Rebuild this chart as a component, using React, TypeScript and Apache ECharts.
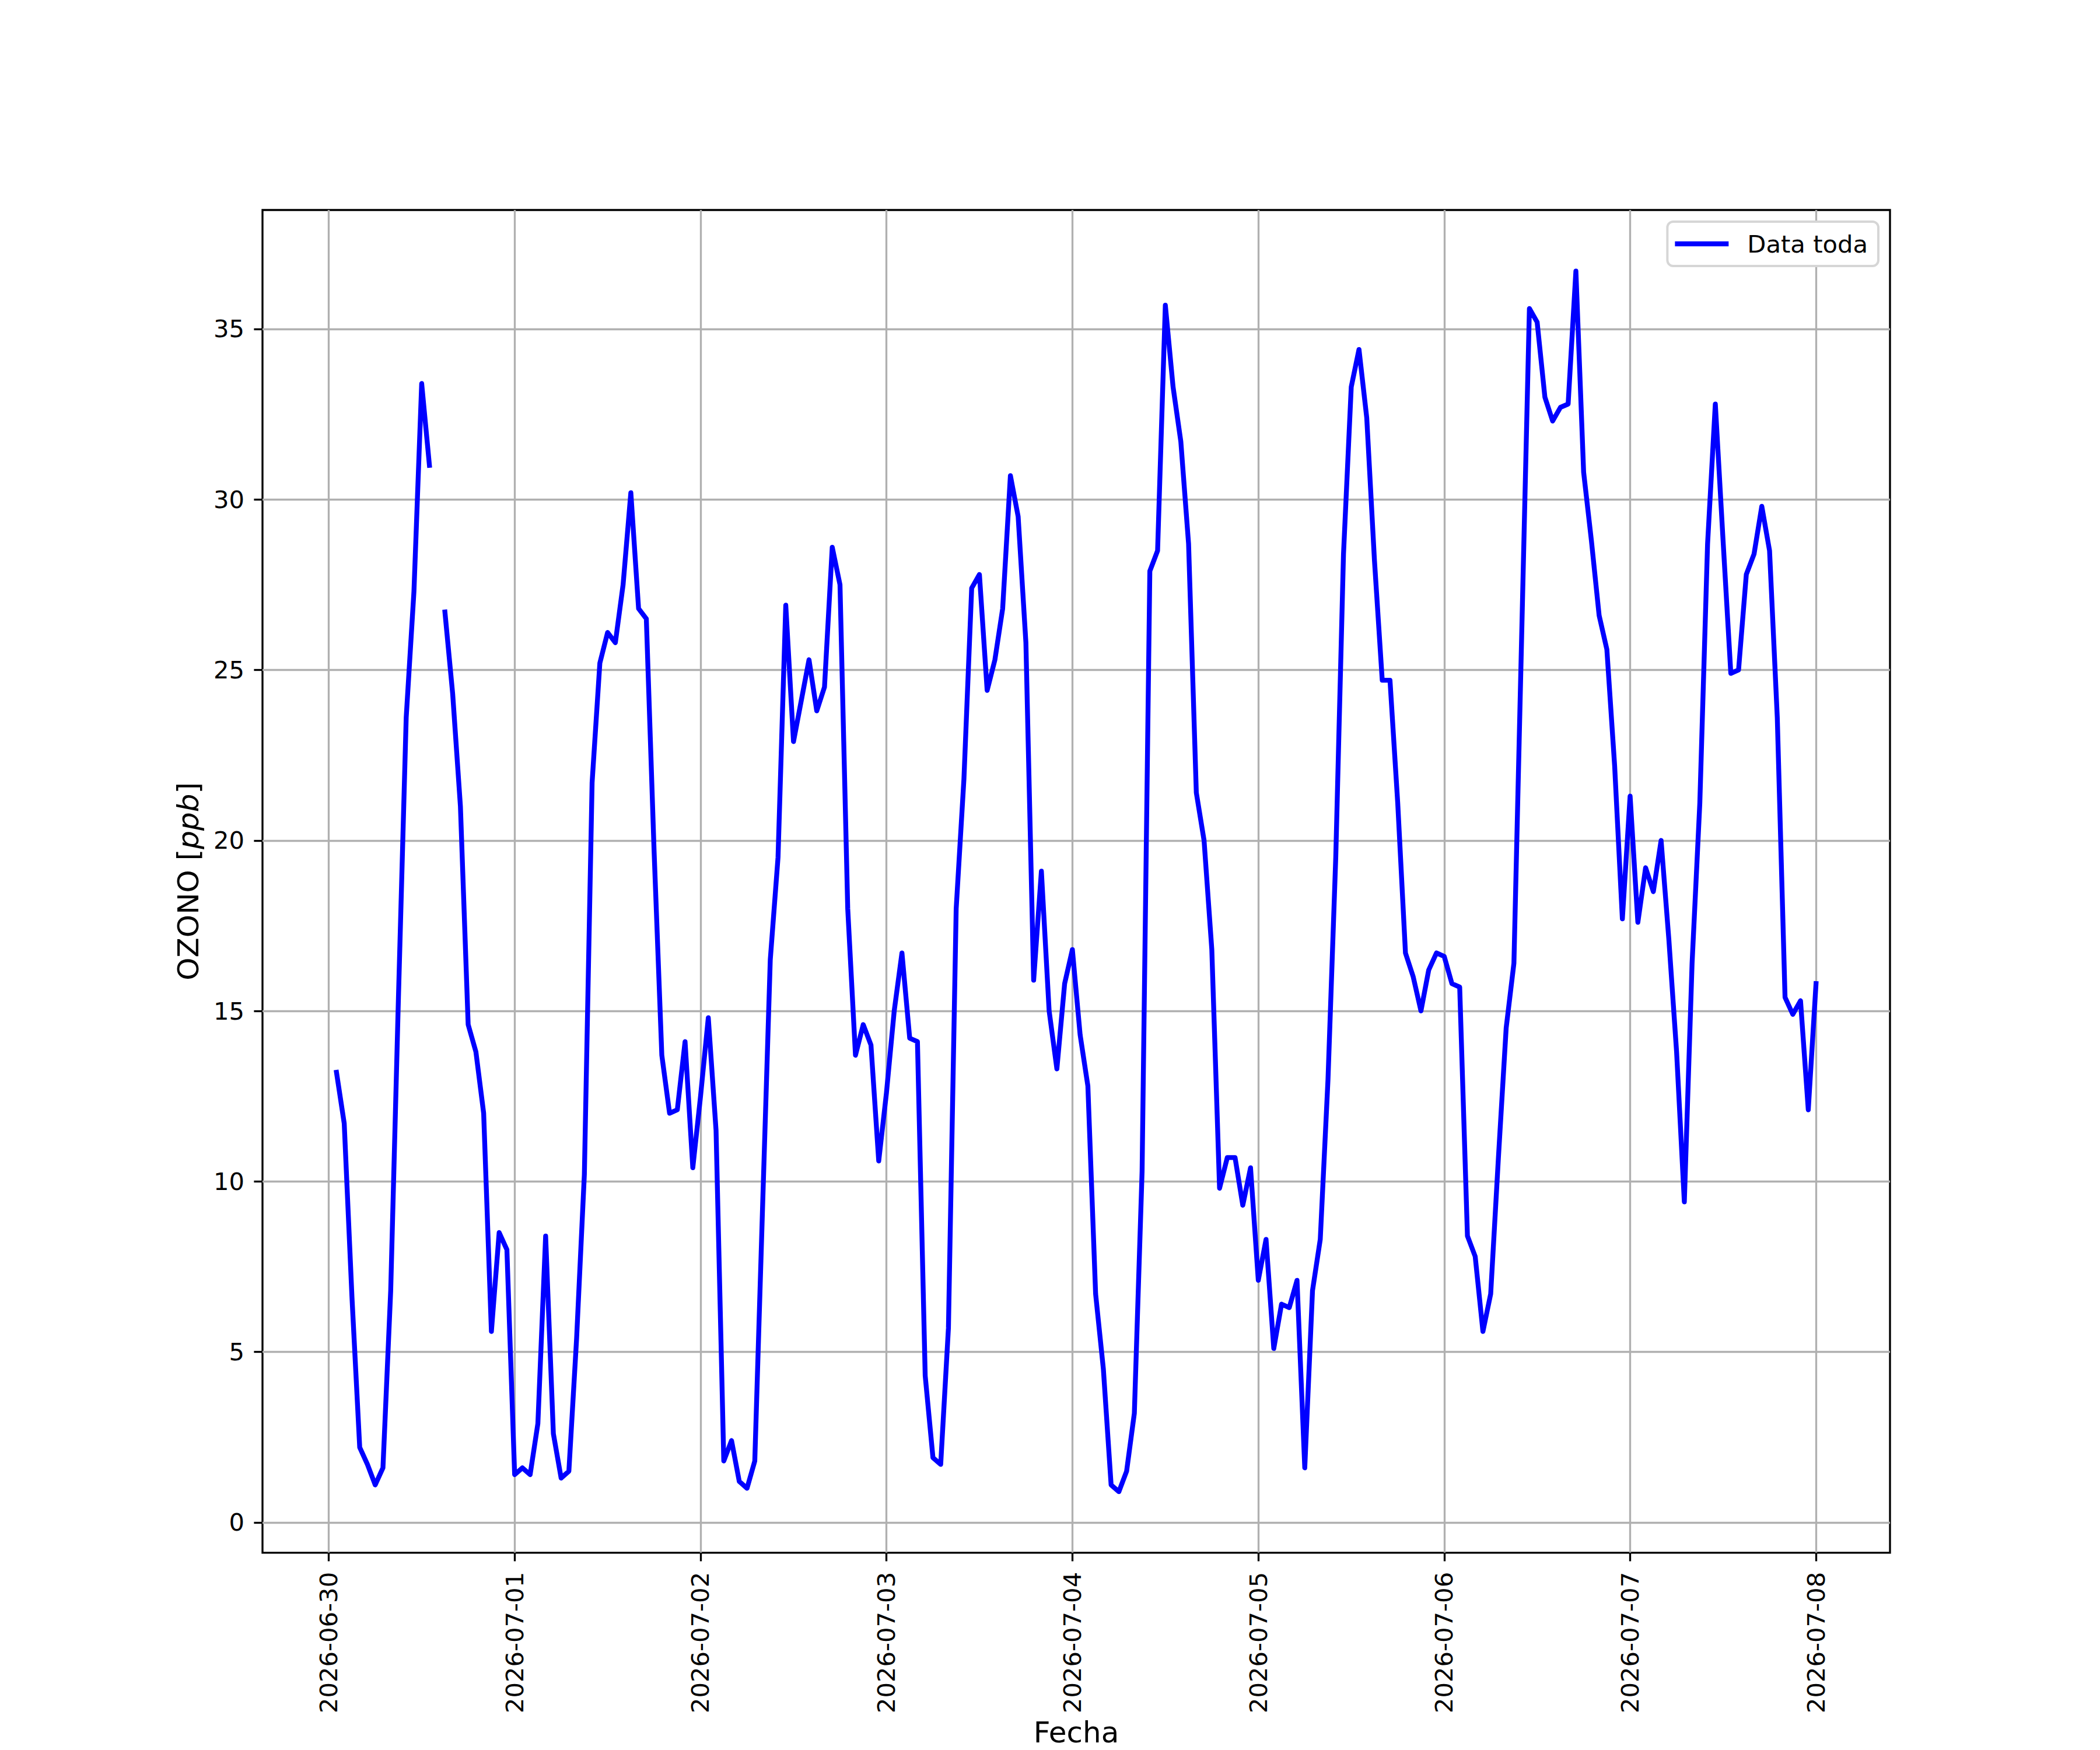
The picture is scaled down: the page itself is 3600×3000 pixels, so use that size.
import React, { useEffect, useRef } from "react";
import * as echarts from "echarts";

// Hourly ozone readings (ppb). Each array starts at the hour given in dayStartHour.
const oz_0630 = [13.2, 11.7, 6.6, 2.2, 1.7, 1.1, 1.6, 6.8, 15.4, 23.6, 27.3, 33.4, 31.0, null, 26.7, 24.3, 21.0, 14.6, 13.8, 12.0, 5.6, 8.5, 8.0];
const oz_0701 = [1.4, 1.6, 1.4, 2.9, 8.4, 2.6, 1.3, 1.5, 5.4, 10.2, 21.7, 25.2, 26.1, 25.8, 27.5, 30.2, 26.8, 26.5, 19.7, 13.7, 12.0, 12.1, 14.1, 10.4];
const oz_0702 = [12.5, 14.8, 11.5, 1.8, 2.4, 1.2, 1.0, 1.8, 9.2, 16.5, 19.5, 26.9, 22.9, 24.1, 25.3, 23.8, 24.5, 28.6, 27.5, 18.0, 13.7, 14.6, 14.0, 10.6];
const oz_0703 = [12.6, 15.0, 16.7, 14.2, 14.1, 4.3, 1.9, 1.7, 5.7, 18.0, 21.8, 27.4, 27.8, 24.4, 25.3, 26.8, 30.7, 29.5, 25.8, 15.9, 19.1, 15.0, 13.3, 15.8];
const oz_0704 = [16.8, 14.3, 12.8, 6.7, 4.5, 1.1, 0.9, 1.5, 3.2, 10.3, 27.9, 28.5, 35.7, 33.3, 31.7, 28.7, 21.4, 20.0, 16.8, 9.8, 10.7, 10.7, 9.3, 10.4];
const oz_0705 = [7.1, 8.3, 5.1, 6.4, 6.3, 7.1, 1.6, 6.8, 8.3, 13.0, 19.5, 28.4, 33.3, 34.4, 32.4, 28.2, 24.7, 24.7, 21.1, 16.7, 16.0, 15.0, 16.2, 16.7];
const oz_0706 = [16.6, 15.8, 15.7, 8.4, 7.8, 5.6, 6.7, 10.7, 14.5, 16.4, 26.0, 35.6, 35.2, 33.0, 32.3, 32.7, 32.8, 36.7, 30.8, 28.8, 26.6, 25.6, 22.2, 17.7];
const oz_0707 = [21.3, 17.6, 19.2, 18.5, 20.0, 17.1, 13.8, 9.4, 16.4, 21.1, 28.7, 32.8, 28.8, 24.9, 25.0, 27.8, 28.4, 29.8, 28.5, 23.6, 15.4, 14.9, 15.3, 12.1];
const oz_0708 = [15.8];

const dayLabels = ["2026-06-30", "2026-07-01", "2026-07-02", "2026-07-03", "2026-07-04", "2026-07-05", "2026-07-06", "2026-07-07", "2026-07-08"];
const dayArrays = [oz_0630, oz_0701, oz_0702, oz_0703, oz_0704, oz_0705, oz_0706, oz_0707, oz_0708];
const dayStartHour = [1, 0, 0, 0, 0, 0, 0, 0, 0];
const yTicks = [0, 5, 10, 15, 20, 25, 30, 35];
const seriesName = "Data toda";

export default function App() {
  const ref = useRef<HTMLDivElement>(null);

  useEffect(() => {
    if (!ref.current) return;
    const chart = echarts.init(ref.current, undefined, { renderer: "svg" });

    // x = hours since 2026-06-30 00:00
    const data: [number, number | null][] = [];
    dayArrays.forEach((arr, d) => {
      arr.forEach((v, i) => {
        data.push([d * 24 + dayStartHour[d] + i, v]);
      });
    });
    const xs = data.map((p) => p[0]);
    const ys = data.filter((p) => p[1] != null).map((p) => p[1] as number);
    const xMinD = Math.min(...xs), xMaxD = Math.max(...xs);
    const yMinD = Math.min(...ys), yMaxD = Math.max(...ys);
    const xm = (xMaxD - xMinD) * 0.05;
    const ym = (yMaxD - yMinD) * 0.05;
    const xTickValues = dayLabels.map((_, i) => i * 24);

    const font = "DejaVu Sans";
    const tickFs = 41.7;
    const labelFs = 50;
    const lw = 3.33;
    const seriesLw = 8.33;

    chart.setOption({
      animation: false,
      backgroundColor: "#ffffff",
      grid: {
        left: 450,
        right: 360,
        top: 360,
        bottom: 330,
        show: true,
        borderColor: "#000000",
        borderWidth: lw,
        backgroundColor: "transparent",
        containLabel: false,
      },
      legend: {
        data: [{ name: seriesName, icon: "rect" }],
        right: 380,
        top: 380,
        orient: "vertical",
        itemWidth: 92,
        itemHeight: seriesLw,
        padding: [14, 18, 14, 13],
        backgroundColor: "#ffffff",
        borderColor: "#d6d6d6",
        borderWidth: 4,
        borderRadius: 10,
        textStyle: {
          fontFamily: font,
          fontSize: tickFs,
          color: "#000000",
          padding: [0, 0, 0, 27],
          lineHeight: 48,
        },
      },
      xAxis: {
        type: "value",
        min: xMinD - xm,
        max: xMaxD + xm,
        name: "Fecha",
        nameLocation: "middle",
        nameGap: 282,
        nameTextStyle: { fontFamily: font, fontSize: labelFs, color: "#000000", verticalAlign: "top" },
        axisLine: { show: false, onZero: false },
        axisTick: {
          show: true,
          inside: false,
          length: 14.6,
          lineStyle: { color: "#000000", width: lw },
          customValues: xTickValues,
        },
        axisLabel: {
          show: true,
          rotate: 90,
          margin: 33,
          fontFamily: font,
          fontSize: tickFs,
          color: "#000000",
          customValues: xTickValues,
          formatter: (v: number) => {
            const i = Math.round(v / 24);
            return dayLabels[i] ?? "";
          },
        },
        splitLine: { show: true, lineStyle: { color: "#b0b0b0", width: lw } },
      },
      yAxis: {
        type: "value",
        min: yMinD - ym,
        max: yMaxD + ym,
        name: "{n|OZONO [}{i|ppb}{n|]}",
        nameLocation: "middle",
        nameRotate: 90,
        nameGap: 102,
        nameTextStyle: {
          fontFamily: font,
          fontSize: labelFs,
          color: "#000000",
          rich: {
            n: { fontFamily: font, fontSize: labelFs, color: "#000000" },
            i: { fontFamily: font, fontSize: labelFs, color: "#000000", fontStyle: "italic" },
          },
        },
        axisLine: { show: false, onZero: false },
        axisTick: {
          show: true,
          inside: false,
          length: 14.6,
          lineStyle: { color: "#000000", width: lw },
          customValues: yTicks,
        },
        axisLabel: {
          show: true,
          margin: 31,
          fontFamily: font,
          fontSize: tickFs,
          color: "#000000",
          customValues: yTicks,
          formatter: (v: number) => String(v),
        },
        splitLine: { show: true, lineStyle: { color: "#b0b0b0", width: lw } },
      },
      series: [
        {
          name: seriesName,
          type: "line",
          data,
          showSymbol: false,
          symbol: "none",
          connectNulls: false,
          color: "#0000ff",
          lineStyle: { color: "#0000ff", width: seriesLw, join: "round", cap: "square" },
          itemStyle: { color: "#0000ff" },
          z: 5,
        },
      ],
    });

    return () => {
      chart.dispose();
    };
  }, []);

  return (
    <div
      ref={ref}
      style={{ position: "absolute", left: 0, top: 0, width: 3600, height: 3000, background: "#ffffff" }}
    />
  );
}
